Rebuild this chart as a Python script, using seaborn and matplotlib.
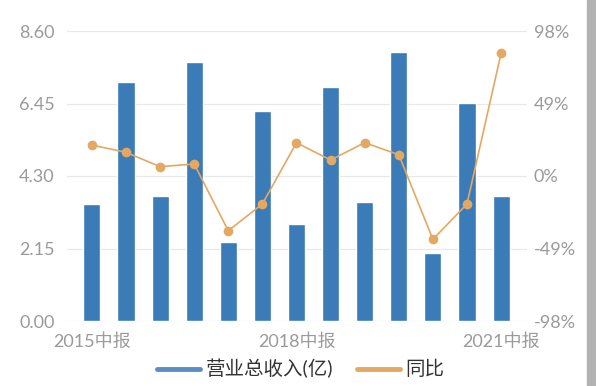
import numpy as np
import pandas as pd
import matplotlib
matplotlib.use("Agg")
import matplotlib.pyplot as plt
import seaborn as sns
from matplotlib.lines import Line2D
from matplotlib.patches import Rectangle

# ------------------------------
# data
# ------------------------------
periods = ["2015中报", "2015年报", "2016中报", "2016年报", "2017中报", "2017年报",
           "2018中报", "2018年报", "2019中报", "2019年报", "2020中报", "2020年报",
           "2021中报"]
revenue = [3.47, 7.09, 3.71, 7.68, 2.34, 6.24, 2.88, 6.94, 3.53, 7.98, 2.02, 6.47, 3.72]
yoy = [20.9, 16.0, 6.3, 8.1, -37.0, -18.9, 22.5, 10.8, 22.5, 14.4, -42.8, -18.9, 82.9]

left_ticks = [0.00, 2.15, 4.30, 6.45, 8.60]
right_ticks = [-98, -49, 0, 49, 98]
shown_labels = ["2015中报", "2018中报", "2021中报"]

df = pd.DataFrame({"period": periods, "revenue": revenue, "yoy": yoy})
df["pos"] = np.arange(len(df))

# ------------------------------
# style
# ------------------------------
sns.set_theme(style="white")
plt.rcParams["font.family"] = ["Lato", "Noto Sans CJK SC", "DejaVu Sans"]

bar_color = "#3a7bb8"
line_color = "#e3a862"
tick_color = "#9a9a9a"

fig = plt.figure(figsize=(5.96, 3.86), dpi=100)
ax = fig.add_axes([67 / 596, 1 - 321 / 386, 460 / 596, 290 / 386])

sns.barplot(data=df, x="period", y="revenue", order=periods,
            color=bar_color, width=0.5, saturation=1, ax=ax, zorder=2)

ax2 = ax.twinx()
sns.lineplot(data=df, x="pos", y="yoy", color=line_color, lw=1.2,
             marker="o", markersize=7, markeredgewidth=0, ax=ax2, zorder=3)

ax.set_xlim(-0.73, 12.76)
ax.set_ylim(0, 8.6)
ax2.set_ylim(-98, 98)

ax.set_yticks(left_ticks)
ax.set_yticklabels([f"{v:.2f}" for v in left_ticks])
ax2.set_yticks(right_ticks)
ax2.set_yticklabels([f"{v}%" for v in right_ticks])

ax.set_xticks([periods.index(p) for p in shown_labels])
ax.set_xticklabels(shown_labels)

ax.yaxis.grid(True, color="#e8e8e8", lw=0.9, zorder=0)
ax.set_axisbelow(True)
ax.set_xlabel("")
ax.set_ylabel("")
ax2.set_xlabel("")
ax2.set_ylabel("")

for a in (ax, ax2):
    for s in a.spines.values():
        s.set_visible(False)
    a.tick_params(length=0, labelsize=13, labelcolor=tick_color)
ax.tick_params(axis="y", pad=9)
ax.tick_params(axis="x", pad=9)
ax2.tick_params(axis="y", pad=5)

handles = [Line2D([], [], color="#5b8ec4", lw=3.5),
           Line2D([], [], color=line_color, lw=3.5)]
fig.legend(handles, ["营业总收入(亿)", "同比"], loc="center",
           bbox_to_anchor=(0.505, 0.045), ncol=2, frameon=False,
           fontsize=14, handlelength=2.2, handletextpad=0.3,
           columnspacing=1.2, labelcolor="#333333")

# gray strip at the right edge of the screenshot
fig.patches.append(Rectangle((587 / 596, 0), 9 / 596, 1, transform=fig.transFigure,
                             color="#b3b3b3", zorder=0))

fig.savefig("out.png", dpi=100)
